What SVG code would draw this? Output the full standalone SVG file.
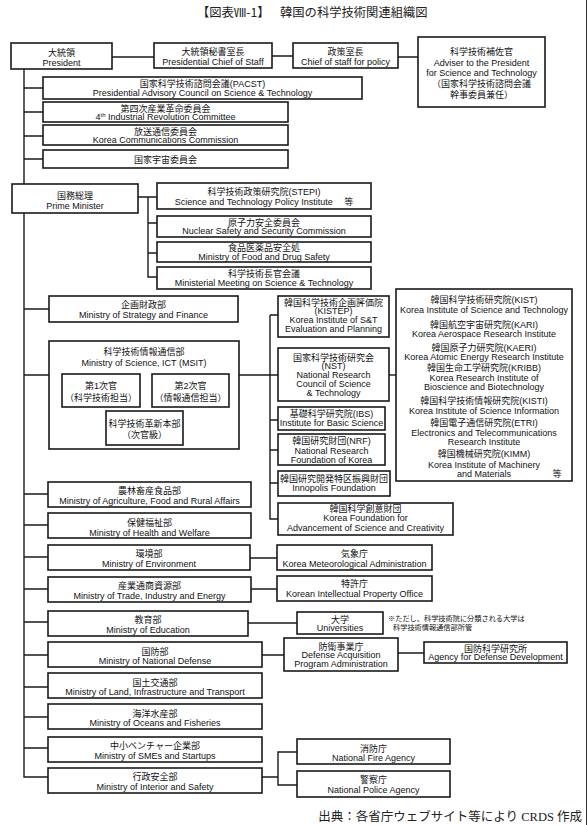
<svg xmlns="http://www.w3.org/2000/svg" width="588" height="825" viewBox="0 0 588 825">
<style>
.b{fill:#fff;stroke:#1a1a1a;stroke-width:1.6}
.c{fill:none;stroke:#1a1a1a;stroke-width:1.4}
text{font-family:"Liberation Sans","Noto Sans CJK JP",sans-serif;font-size:9px;fill:#111;text-anchor:middle}
.s{font-size:7.2px;text-anchor:start}
.ti{font-family:"Noto Sans CJK JP",sans-serif;font-size:12.3px;text-anchor:start;fill:#222}
.src{font-family:"Liberation Serif","Noto Sans CJK JP",serif;font-size:12.5px;text-anchor:end;fill:#222}
</style>
<rect x="0" y="0" width="588" height="825" fill="#fff"/>
<line x1="586.5" y1="0" x2="586.5" y2="825" stroke="#333" stroke-width="1"/>
<text class="ti" x="197" y="17">【図表Ⅷ-1】</text>
<text class="ti" x="280" y="17">韓国の科学技術関連組織図</text>

<g id="connectors">
<path class="c" d="M112,57H154 M272,56H293 M398,57H418"/>
<path class="c" d="M24,69V777H48 M24,88H43 M24,112H43 M24,136H43 M24,159H43 M24,309H49 M24,375H49 M24,494H48 M24,525H48 M24,557H48 M24,589H48 M24,622H48 M24,655H48 M24,687H48 M24,717H48 M24,748H48"/>
<path class="c" d="M138,197H157 M148,197V277H157 M148,223H157 M148,253H157"/>
<path class="c" d="M239,375H278 M270,315H278 M270,315V519H278 M270,420H278 M270,450H278 M270,483H278"/>
<path class="c" d="M389,375H396"/>
<path class="c" d="M250,558H277 M251,589H277 M248,623H297 M262,655H284 M398,653H424"/>
<path class="c" d="M262,777H278 M297,752H278V785H297"/>
</g>

<g id="president"><rect class="b" x="11" y="43" width="101" height="26"/><text x="61.5" y="55.5">大統領</text><text x="61.5" y="65.5">President</text></g>
<g id="chief-of-staff"><rect class="b" x="154" y="43" width="118" height="25"/><text x="213" y="55">大統領秘書室長</text><text x="213" y="64.5">Presidential Chief of Staff</text></g>
<g id="policy"><rect class="b" x="293" y="43" width="105" height="25"/><text x="345.5" y="55">政策室長</text><text x="345.5" y="64.5">Chief of staff for policy</text></g>
<g id="adviser"><rect class="b" x="418" y="37" width="127" height="70"/><text x="481.5" y="55">科学技術補佐官</text><text x="481.5" y="65.5">Adviser to the President</text><text x="481.5" y="75.5">for Science and Technology</text><text x="481.5" y="87">（国家科学技術諮問会議</text><text x="481.5" y="98">幹事委員兼任）</text></g>
<g id="pacst"><rect class="b" x="43" y="77" width="319" height="22"/><text x="202.5" y="86.5">国家科学技術諮問会議(PACST)</text><text x="202.5" y="96">Presidential Advisory Council on Science &amp; Technology</text></g>
<g id="fourth-ir"><rect class="b" x="43" y="102" width="245" height="20"/><text x="165.5" y="111.5">第四次産業革命委員会</text><text x="165.5" y="120">4<tspan font-size="6" dy="-3">th</tspan><tspan dy="3"> Industrial Revolution Committee</tspan></text></g>
<g id="kcc"><rect class="b" x="43" y="125" width="245" height="20"/><text x="165.5" y="134.5">放送通信委員会</text><text x="165.5" y="143">Korea Communications Commission</text></g>
<g id="space"><rect class="b" x="43" y="150" width="245" height="18"/><text x="165.5" y="162.5">国家宇宙委員会</text></g>

<g id="prime-minister"><rect class="b" x="12" y="184" width="126" height="29"/><text x="75" y="198.5">国務総理</text><text x="75" y="209">Prime Minister</text></g>
<g id="stepi"><rect class="b" x="157" y="183" width="214" height="26"/><text x="264" y="195">科学技術政策研究院(STEPI)</text><text x="264" y="204.5">Science and Technology  Policy Institute　 等</text></g>
<g id="nssc"><rect class="b" x="157" y="216" width="214" height="21"/><text x="264" y="225.5">原子力安全委員会</text><text x="264" y="234.3">Nuclear Safety and Security Commission</text></g>
<g id="mfds"><rect class="b" x="157" y="242" width="214" height="20"/><text x="264" y="251">食品医薬品安全処</text><text x="264" y="259.8">Ministry of Food and Drug Safety</text></g>
<g id="ministerial"><rect class="b" x="157" y="267" width="214" height="22"/><text x="264" y="276.5">科学技術長官会議</text><text x="264" y="286.3">Ministerial Meeting on Science &amp; Technology</text></g>

<g id="strategy"><rect class="b" x="49" y="296" width="189" height="26"/><text x="143.5" y="307.5">企画財政部</text><text x="143.5" y="317.5">Ministry of Strategy and Finance</text></g>
<g id="msit"><rect class="b" x="49" y="341" width="190" height="108"/><text x="144" y="354.5">科学技術情報通信部</text><text x="144" y="365.5">Ministry of Science, ICT (MSIT)</text></g>
<g id="vice1"><rect class="b" x="62" y="374" width="78" height="33"/><text x="101" y="389">第1次官</text><text x="101" y="400.5">（科学技術担当）</text></g>
<g id="vice2"><rect class="b" x="152" y="374" width="77" height="33"/><text x="190.5" y="389">第2次官</text><text x="190.5" y="400.5">（情報通信担当）</text></g>
<g id="innovation"><rect class="b" x="106" y="411" width="77" height="34"/><text x="144.5" y="426.5">科学技術革新本部</text><text x="144.5" y="437.5">（次官級）</text></g>

<g id="kistep"><rect class="b" x="278" y="296" width="111" height="41"/><text x="333.5" y="305.8">韓国科学技術企画評価院</text><text x="333.5" y="314.3">(KISTEP)</text><text x="333.5" y="323.3">Korea Institute of S&amp;T</text><text x="333.5" y="332.3">Evaluation and Planning</text></g>
<g id="nst"><rect class="b" x="278" y="348" width="111" height="53"/><text x="333.5" y="360.5">国家科学技術研究会</text><text x="333.5" y="369">(NST)</text><text x="333.5" y="377.5">National Research</text><text x="333.5" y="386.5">Council of Science</text><text x="333.5" y="395.5">&amp; Technology</text></g>
<g id="ibs"><rect class="b" x="278" y="407" width="107" height="23"/><text x="331.5" y="416.8">基礎科学研究院(IBS)</text><text x="331.5" y="426" font-size="8.8">Institute for Basic Science</text></g>
<g id="nrf"><rect class="b" x="278" y="434" width="107" height="31"/><text x="331.5" y="444.3" font-size="8.8">韓国研究財団(NRF)</text><text x="331.5" y="454">National Research</text><text x="331.5" y="462.5">Foundation of Korea</text></g>
<g id="innopolis"><rect class="b" x="278" y="471" width="112" height="25"/><text x="334" y="481.5" font-size="8.7">韓国研究開発特区振興財団</text><text x="334" y="491.3">Innopolis Foundation</text></g>
<g id="kofac"><rect class="b" x="278" y="503" width="175" height="32"/><text x="365.5" y="512.3">韓国科学創意財団</text><text x="365.5" y="521">Korea Foundation for</text><text x="365.5" y="530.8">Advancement of Science and Creativity</text></g>

<g id="institutes"><rect class="b" x="396" y="289" width="176" height="192"/>
<text x="484" y="302.5">韓国科学技術研究院(KIST)</text><text x="484" y="313">Korea Institute  of Science and Technology</text>
<text x="484" y="327.5">韓国航空宇宙研究院(KARI)</text><text x="484" y="336.5">Korea Aerospace Research Institute</text>
<text x="484" y="350.5">韓国原子力研究院(KAERI)</text><text x="484" y="359.5">Korea Atomic Energy Research Institute</text>
<text x="484" y="371">韓国生命工学研究院(KRIBB)</text><text x="484" y="381">Korea Research Institute  of</text><text x="484" y="390">Bioscience and Biotechnology</text>
<text x="484" y="404">韓国科学技術情報研究院(KISTI)</text><text x="484" y="413.5">Korea Institute  of Science Information</text>
<text x="484" y="426">韓国電子通信研究院(ETRI)</text><text x="484" y="435.5">Electronics and Telecommunications</text><text x="484" y="444.5">Research Institute</text>
<text x="484" y="457">韓国機械研究院(KIMM)</text><text x="484" y="467.5">Korea Institute  of Machinery</text><text x="484" y="476.5">and Materials</text><text x="557" y="476.5">等</text></g>

<g id="agriculture"><rect class="b" x="48" y="482" width="203" height="25"/><text x="149.5" y="494">農林畜産食品部</text><text x="149.5" y="504">Ministry of Agriculture, Food and Rural Affairs</text></g>
<g id="health"><rect class="b" x="48" y="513" width="203" height="25"/><text x="149.5" y="525.5">保健福祉部</text><text x="149.5" y="535.5">Ministry of Health and Welfare</text></g>
<g id="environment"><rect class="b" x="48" y="545" width="202" height="25"/><text x="149" y="556.5">環境部</text><text x="149" y="567">Ministry of Environment</text></g>
<g id="trade"><rect class="b" x="48" y="577" width="203" height="25"/><text x="149.5" y="588.5">産業通商資源部</text><text x="149.5" y="599">Ministry of Trade, Industry and Energy</text></g>
<g id="education"><rect class="b" x="48" y="611" width="200" height="25"/><text x="148" y="622.5">教育部</text><text x="148" y="633">Ministry of Education</text></g>

<g id="kma"><rect class="b" x="277" y="545" width="155" height="25"/><text x="354.5" y="556.5">気象庁</text><text x="354.5" y="566.5">Korea Meteorological Administration</text></g>
<g id="kipo"><rect class="b" x="277" y="576" width="155" height="25"/><text x="354.5" y="587">特許庁</text><text x="354.5" y="597">Korean Intellectual  Property Office</text></g>
<g id="universities"><rect class="b" x="297" y="612" width="86" height="22"/><text x="340" y="622.5">大学</text><text x="340" y="631.3">Universities</text></g>
<text class="s" x="388" y="620.5">※ただし、科学技術院に分類される大学は</text>
<text class="s" x="393" y="629.5">科学技術情報通信部所管</text>
<g id="dapa"><rect class="b" x="284" y="638" width="114" height="33"/><text x="341" y="649.5">防衛事業庁</text><text x="341" y="658.3">Defense Acquisition</text><text x="341" y="667.3">Program Administration</text></g>
<g id="add"><rect class="b" x="424" y="642" width="143" height="21"/><text x="495.5" y="651.5">国防科学研究所</text><text x="495.5" y="660.3">Agency for Defense Development</text></g>

<g id="defense"><rect class="b" x="48" y="642" width="214" height="25"/><text x="155" y="654.5">国防部</text><text x="155" y="664">Ministry of National Defense</text></g>
<g id="land"><rect class="b" x="48" y="673" width="214" height="25"/><text x="155" y="685.5">国土交通部</text><text x="155" y="695">Ministry of Land, Infrastructure  and Transport</text></g>
<g id="oceans"><rect class="b" x="48" y="704" width="214" height="25"/><text x="155" y="716.5">海洋水産部</text><text x="155" y="726">Ministry of Oceans and Fisheries</text></g>
<g id="smes"><rect class="b" x="48" y="737" width="214" height="25"/><text x="155" y="748.5">中小ベンチャー企業部</text><text x="155" y="759">Ministry of SMEs and Startups</text></g>
<g id="interior"><rect class="b" x="48" y="768" width="214" height="25"/><text x="155" y="779.5">行政安全部</text><text x="155" y="790">Ministry of Interior and Safety</text></g>
<g id="fire"><rect class="b" x="297" y="739" width="153" height="25"/><text x="373.5" y="751.5">消防庁</text><text x="373.5" y="761">National Fire Agency</text></g>
<g id="police"><rect class="b" x="297" y="771" width="153" height="26"/><text x="373.5" y="782.5">警察庁</text><text x="373.5" y="793">National Police Agency</text></g>

<text class="src" x="582" y="821">出典：各省庁ウェブサイト等により CRDS 作成</text>
</svg>
